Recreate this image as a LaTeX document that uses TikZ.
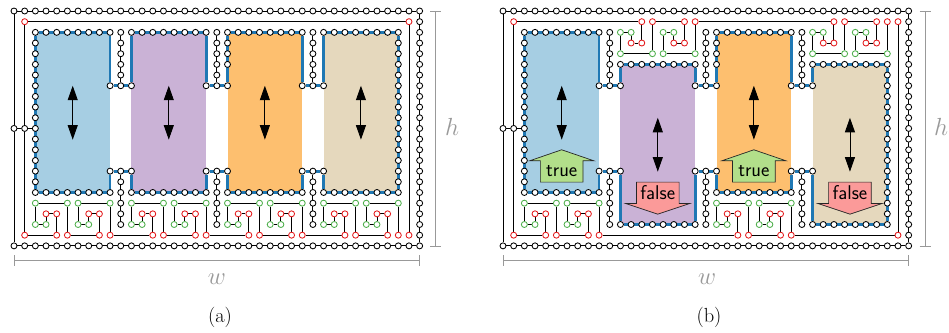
\documentclass[tikz,border=0pt]{standalone}
\usetikzlibrary{arrows.meta}
\pgfdeclarelayer{fills}\pgfdeclarelayer{edges}
\pgfsetlayers{fills,edges,main}
\definecolor{cblue}{HTML}{A6CEE3}
\definecolor{cpurple}{HTML}{CAB2D6}
\definecolor{corange}{HTML}{FDBF6F}
\definecolor{cbeige}{HTML}{E5D8BD}
\definecolor{cedge}{HTML}{1F78B4}
\definecolor{cred}{HTML}{E41A1C}
\definecolor{cgreen}{HTML}{4DAF4A}
\definecolor{ctrue}{HTML}{B2DF8A}
\definecolor{cfalse}{HTML}{FB9A99}
\definecolor{cruler}{HTML}{999999}
\tikzset{
  vbase/.style={circle,draw,fill=white,inner sep=0pt,minimum size=6bp,line width=0.85bp},
  vk/.style={vbase,draw=black},
  vr/.style={vbase,draw=cred},
  vg/.style={vbase,draw=cgreen},
  wire/.style={draw=black,line width=0.9bp},
  thick wire/.style={draw=cedge,line width=2.8bp},
  dbl/.style={{Stealth[length=14.5bp,width=10bp,inset=0pt]}-{Stealth[length=14.5bp,width=10bp,inset=0pt]},line width=0.9bp},
  ruler/.style={draw=cruler,line width=0.9bp},
  tfbox/.style={draw=black!85,line width=0.7bp},
  tftext/.style={inner sep=0pt,text=black,font=\fontsize{20}{22}\selectfont\sffamily},
  rlabel/.style={inner sep=0pt,text=cruler,font=\fontsize{24}{26}\selectfont},
  sublabel/.style={inner sep=0pt,font=\fontsize{20.5}{22}\selectfont},
}
\newcommand{\VRow}[4]{\foreach \vx in {#2,...,#3}{\node[#1] (\vx-#4) at (\vx,#4) {};}}
\newcommand{\VCol}[4]{\foreach \vy in {#3,...,#4}{\node[#1] (#2-\vy) at (#2,\vy) {};}}
\newcommand{\VOne}[3]{\node[#1] (#2-#3) at (#2,#3) {};}
\newcommand{\Gadget}[5]{%
  \pgfmathtruncatemacro\gA{#1+1}\pgfmathtruncatemacro\gB{#1+2}\pgfmathtruncatemacro\gC{#1+3}%
  \pgfmathtruncatemacro\gD{#1+4}\pgfmathtruncatemacro\gE{#1+5}\pgfmathtruncatemacro\gF{#1+6}%
  \pgfmathtruncatemacro\gG{#1+7}%
  \VOne{vg}{#1}{#2}\VOne{vg}{\gC}{#2}\VOne{vg}{\gD}{#2}\VOne{vg}{\gG}{#2}%
  \VOne{vr}{\gA}{#3}\VOne{vr}{\gB}{#3}\VOne{vr}{\gE}{#3}\VOne{vr}{\gF}{#3}%
  \VOne{vg}{#1}{#4}\VOne{vg}{\gA}{#4}\VOne{vg}{\gD}{#4}\VOne{vg}{\gE}{#4}%
  \VOne{vr}{\gB}{#5}\VOne{vr}{\gC}{#5}\VOne{vr}{\gF}{#5}\VOne{vr}{\gG}{#5}%
  \begin{pgfonlayer}{edges}
    \draw[wire] (\gC-#2) -- (#1-#2) -- (#1-#4) -- (\gA-#4) -- (\gA-#3) -- (\gB-#3) -- (\gB-#5);
    \draw[wire] (\gC-#2) -- (\gC-#5) -- (\gF-#5) -- (\gF-#3) -- (\gE-#3) -- (\gE-#4) -- (\gD-#4) -- (\gD-#2) -- (\gG-#2) -- (\gG-#5);
  \end{pgfonlayer}}
\newcommand{\Frame}{%
  \VRow{vk}{0}{38}{0}\VRow{vk}{0}{38}{22}\VCol{vk}{38}{1}{21}%
  \VOne{vk}{0}{11}\VOne{vk}{1}{11}%
  \VOne{vr}{1}{1}\VOne{vr}{37}{1}\VOne{vr}{1}{21}\VOne{vr}{37}{21}%
  \begin{pgfonlayer}{edges}
    \draw[wire] (0-0) -- (38-0) -- (38-22) -- (0-22);
    \draw[wire] (0-0) -- (0-11);
    \draw[wire] (0-11) -- (0-22);
    \draw[wire] (1-1) -- (1-11) -- (1-21);
    \draw[wire] (37-1) -- (37-21);
    \draw[wire] (0-11) -- (1-11);
  \end{pgfonlayer}}
\newcommand{\Separator}[1]{%
  \VCol{vk}{#1}{2}{7}\VCol{vk}{#1}{15}{20}%
  \begin{pgfonlayer}{edges}
    \draw[wire] (#1-2) -- (#1-7);
    \draw[wire] (#1-15) -- (#1-20);
  \end{pgfonlayer}}
\newcommand{\Block}[5]{%
  \VRow{vk}{#1}{#2}{#3}\VRow{vk}{#1}{#2}{#4}%
  \begin{pgfonlayer}{fills}
    \fill[#5] (#1-#3.center) rectangle (#2-#4.center);
  \end{pgfonlayer}
  \begin{pgfonlayer}{edges}
    \draw[thick wire] (#1-#3) -- (#2-#3);
    \draw[thick wire] (#1-#4) -- (#2-#4);
  \end{pgfonlayer}}
\newcommand{\Blue}[2]{\begin{pgfonlayer}{edges}\draw[thick wire] (#1) -- (#2);\end{pgfonlayer}}
\newcommand{\Wire}[2]{\begin{pgfonlayer}{edges}\draw[wire] (#1) -- (#2);\end{pgfonlayer}}
\newcommand{\DblArrow}[3]{%
  \coordinate (#1t) at (#2,7.0+#3);
  \coordinate (#1b) at (#2,12.05+#3);
  \draw[dbl] (#1t) -- (#1b);}
\newcommand{\TrueArrow}[2]{%
  \draw[tfbox,fill=ctrue] (#2,13.0)
     -- ++(3,1.03) -- ++(-1,0) -- ++(0,2) -- ++(-4,0) -- ++(0,-2) -- ++(-1,0) -- cycle;
  \node[tftext] (#1) at (#2,15.02) {true};}
\newcommand{\FalseArrow}[2]{%
  \draw[tfbox,fill=cfalse] (#2,19.03)
     -- ++(3,-1.0) -- ++(-1,0) -- ++(0,-2) -- ++(-4,0) -- ++(0,2) -- ++(-1,0) -- cycle;
  \node[tftext] (#1) at (#2,17.0) {false};}
\newcommand{\Rulers}[4]{%
  \coordinate (#4hT) at (#1,11); \coordinate (#4hB) at (#1,246);
  \coordinate (#4hT1) at (#1-5.5,11); \coordinate (#4hT2) at (#1+5.5,11);
  \coordinate (#4hB1) at (#1-5.5,246); \coordinate (#4hB2) at (#1+5.5,246);
  \draw[ruler] (#4hT) -- (#4hB);
  \draw[ruler] (#4hT1) -- (#4hT2);
  \draw[ruler] (#4hB1) -- (#4hB2);
  \coordinate (#4wL) at (#2,260.5); \coordinate (#4wR) at (#3,260.5);
  \coordinate (#4wL1) at (#2,255); \coordinate (#4wL2) at (#2,266);
  \coordinate (#4wR1) at (#3,255); \coordinate (#4wR2) at (#3,266);
  \draw[ruler] (#4wL) -- (#4wR);
  \draw[ruler] (#4wL1) -- (#4wL2);
  \draw[ruler] (#4wR1) -- (#4wR2);}
\begin{document}
\begin{tikzpicture}[x=1bp,y=-1bp]
\useasboundingbox (0,0) rectangle (949,332);
\begin{scope}[name prefix=a-,shift={(14,11)},x=10.675bp,y=-10.675bp]
  \Frame
  \Block{2}{9}{2}{17}{cblue}
  \Block{11}{18}{2}{17}{cpurple}
  \Block{20}{27}{2}{17}{corange}
  \Block{29}{36}{2}{17}{cbeige}
  \VCol{vk}{2}{3}{16}\VCol{vk}{36}{3}{16}
  \VCol{vk}{20}{3}{5}
  \Wire{1-11}{2-11}
  \Blue{2-2}{2-17}\Blue{36-2}{36-17}
  \Separator{10}\Separator{19}\Separator{28}
  \VOne{vk}{9}{7}\VOne{vk}{11}{7}\VOne{vk}{9}{15}\VOne{vk}{11}{15}
  \VOne{vk}{18}{7}\VOne{vk}{20}{7}\VOne{vk}{18}{15}\VOne{vk}{20}{15}
  \VOne{vk}{27}{7}\VOne{vk}{29}{7}\VOne{vk}{27}{15}\VOne{vk}{29}{15}
  \foreach \cl/\cr in {9/11,18/20,27/29}{
    \Blue{\cl-2}{\cl-7}\Blue{\cr-2}{\cr-7}\Blue{\cl-7}{\cr-7}
    \Blue{\cl-15}{\cl-17}\Blue{\cr-15}{\cr-17}\Blue{\cl-15}{\cr-15}
  }
  \Gadget{2}{18}{19}{20}{21}
  \Gadget{11}{18}{19}{20}{21}
  \Gadget{20}{18}{19}{20}{21}
  \Gadget{29}{18}{19}{20}{21}
  \begin{pgfonlayer}{edges}
    \draw[wire] (1-21) -- (4-21);
    \draw[wire] (9-21) -- (13-21);
    \draw[wire] (18-21) -- (22-21);
    \draw[wire] (27-21) -- (31-21);
    \draw[wire] (1-1) -- (37-1);
  \end{pgfonlayer}
  \DblArrow{ar1}{5.5}{0}
  \DblArrow{ar2}{14.5}{0}
  \DblArrow{ar3}{23.5}{0}
  \DblArrow{ar4}{32.5}{0}
\end{scope}
\begin{scope}[name prefix=b-,shift={(503,11)},x=10.675bp,y=-10.675bp]
  \Frame
  \Block{2}{9}{2}{17}{cblue}
  \Block{11}{18}{5}{20}{cpurple}
  \Block{20}{27}{2}{17}{corange}
  \Block{29}{36}{5}{20}{cbeige}
  \VCol{vk}{2}{3}{16}\VCol{vk}{36}{6}{19}
  \VCol{vk}{20}{3}{5}
  \Wire{1-11}{2-11}
  \Blue{2-2}{2-17}\Blue{36-5}{36-20}
  \Separator{10}\Separator{19}\Separator{28}
  \VOne{vk}{9}{7}\VOne{vk}{11}{7}\VOne{vk}{9}{15}\VOne{vk}{11}{15}
  \VOne{vk}{18}{7}\VOne{vk}{20}{7}\VOne{vk}{18}{15}\VOne{vk}{20}{15}
  \VOne{vk}{27}{7}\VOne{vk}{29}{7}\VOne{vk}{27}{15}\VOne{vk}{29}{15}
  \foreach \cl/\cr in {9/11,27/29}{
    \Blue{\cl-2}{\cl-7}\Blue{\cr-5}{\cr-7}\Blue{\cl-7}{\cr-7}
    \Blue{\cl-15}{\cl-17}\Blue{\cr-15}{\cr-20}\Blue{\cl-15}{\cr-15}
  }
  \Blue{18-5}{18-7}\Blue{20-2}{20-7}\Blue{18-7}{20-7}
  \Blue{18-15}{18-20}\Blue{20-15}{20-17}\Blue{18-15}{20-15}
  \Gadget{2}{18}{19}{20}{21}
  \Gadget{20}{18}{19}{20}{21}
  \Gadget{11}{4}{3}{2}{1}
  \Gadget{29}{4}{3}{2}{1}
  \begin{pgfonlayer}{edges}
    \draw[wire] (1-21) -- (4-21);
    \draw[wire] (9-21) -- (22-21);
    \draw[wire] (27-21) -- (37-21);
    \draw[wire] (1-1) -- (13-1);
    \draw[wire] (18-1) -- (31-1);
  \end{pgfonlayer}
  \DblArrow{ar1}{5.5}{0}
  \DblArrow{ar2}{14.5}{3}
  \DblArrow{ar3}{23.5}{0}
  \DblArrow{ar4}{32.5}{3}
  \TrueArrow{t1}{5.5}
  \TrueArrow{t2}{23.5}
  \FalseArrow{f1}{14.5}
  \FalseArrow{f2}{32.5}
\end{scope}
\Rulers{435.7}{14}{419.7}{a}
\Rulers{925}{503}{908.7}{b}
\node[rlabel] (ah) at (452,127) {$h$};
\node[rlabel] (bh) at (941,127) {$h$};
\node[rlabel] (aw) at (217,279) {$w$};
\node[rlabel] (bw) at (707,279) {$w$};
\node[sublabel] (la) at (220,317) {(a)};
\node[sublabel] (lb) at (709,317) {(b)};
\end{tikzpicture}
\end{document}
